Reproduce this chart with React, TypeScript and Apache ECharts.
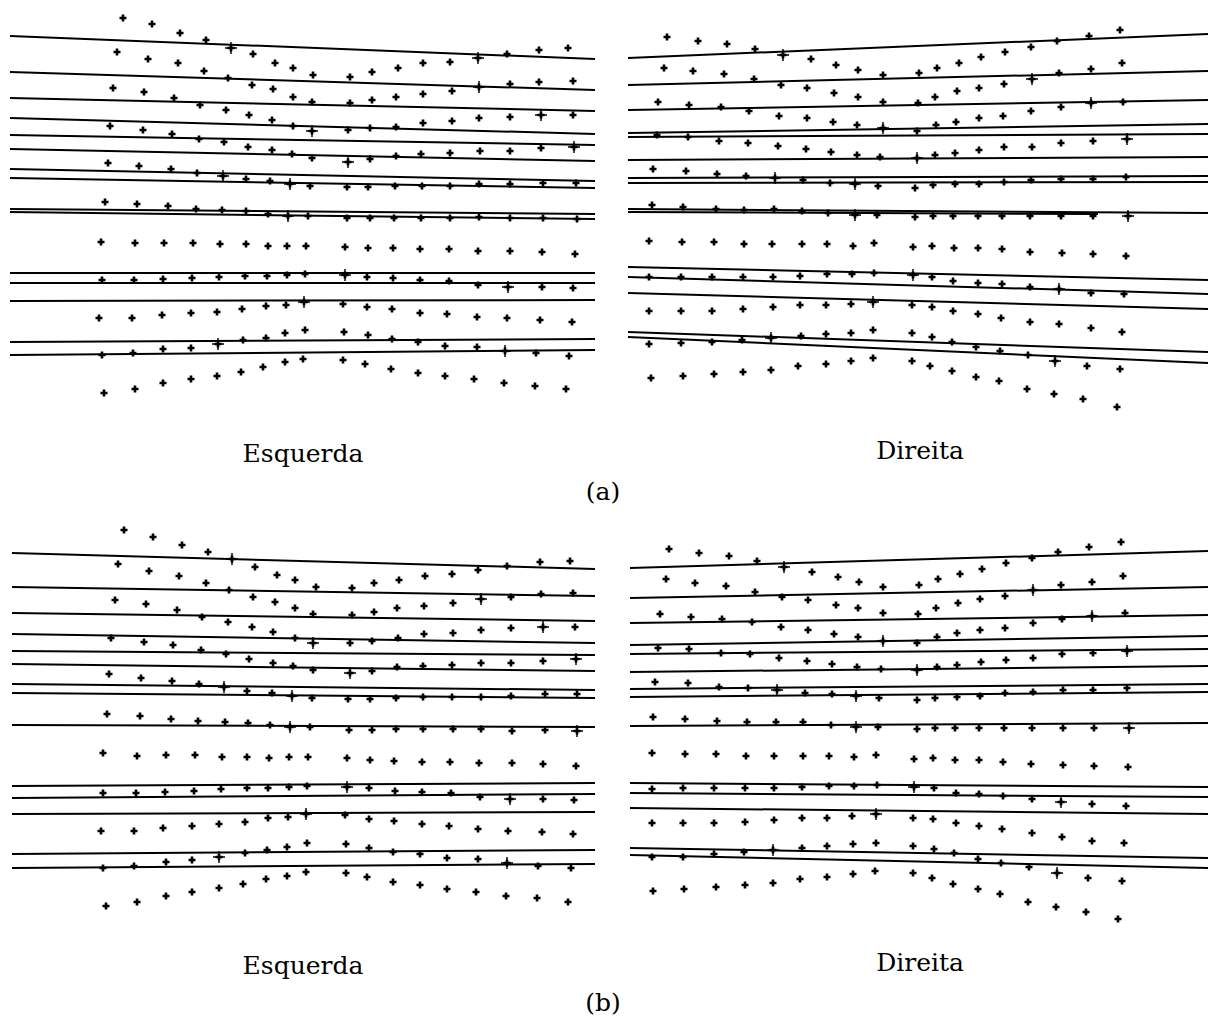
import React, { useEffect, useRef } from "react";
import * as echarts from "echarts";

// ---------- labels ----------
const panelLabels = ["Esquerda", "Direita", "Esquerda", "Direita"];
const captions = ["(a)", "(b)"];

// ---------- (a) Esquerda ----------
const rowsTL: number[][][] = [
  [[123,18],[152,24],[180,33],[206,40],[231,48],[253,54],[275,63],[293,68],[313,75],[350,77],[372,72],[398,68],[423,63],[450,62],[478,58],[507,54],[539,50],[568,48]],
  [[117,52],[148,59],[178,63],[204,71],[228,78],[252,85],[273,89],[293,97],[312,102],[350,103],[372,100],[396,97],[423,94],[452,91],[479,87],[510,84],[539,82],[573,81]],
  [[113,88],[144,92],[174,98],[200,105],[226,110],[249,115],[272,120],[293,126],[312,131],[348,130],[370,128],[396,127],[423,123],[452,121],[479,118],[510,117],[541,115],[573,115]],
  [[110,126],[143,130],[172,134],[199,139],[224,142],[248,147],[272,150],[292,154],[312,158],[348,162],[370,159],[396,156],[421,154],[450,153],[480,151],[510,151],[541,148],[574,147]],
  [[108,163],[139,166],[171,169],[197,173],[223,176],[246,179],[270,181],[290,184],[310,186],[347,187],[368,187],[395,186],[422,186],[450,186],[479,184],[510,184],[543,183],[576,183]],
  [[105,202],[137,204],[168,206],[196,209],[222,210],[246,211],[268,214],[288,216],[308,216],[347,218],[370,218],[394,218],[421,218],[450,218],[479,217],[510,218],[543,218],[577,219]],
  [[101,242],[135,243],[164,243],[193,243],[220,244],[246,244],[268,246],[287,246],[306,246],[345,247],[368,248],[393,248],[420,249],[449,249],[478,251],[510,251],[542,252],[575,254]],
  [[102,280],[134,280],[163,279],[192,278],[219,277],[245,276],[267,276],[287,275],[305,274],[345,275],[367,277],[393,278],[420,280],[449,281],[478,285],[508,287],[542,287],[573,288]],
  [[99,318],[132,318],[162,315],[191,313],[217,312],[242,309],[266,306],[286,305],[304,302],[343,304],[367,307],[392,309],[420,313],[447,314],[477,317],[507,318],[540,320],[572,322]],
  [[102,355],[133,353],[163,349],[191,348],[218,344],[243,340],[266,338],[285,333],[305,330],[344,332],[368,335],[392,339],[418,342],[445,346],[477,347],[505,351],[536,353],[569,356]],
  [[104,393],[135,389],[163,383],[191,379],[217,376],[241,372],[263,367],[285,362],[303,359],[343,360],[365,364],[391,369],[418,373],[445,376],[474,379],[504,383],[535,386],[566,389]],
];
const crossesTL: number[][] = [[231,48],[478,58],[479,87],[312,131],[541,115],[348,162],[574,147],[223,176],[290,184],[288,216],[345,275],[508,287],[304,302],[218,344],[505,351]];
const linesTL: number[][][] = [
  [[10,36],[595,59]],[[10,72],[595,90]],[[10,98],[595,111]],[[10,118],[595,134]],[[10,135],[595,145]],
  [[10,149],[595,161]],[[10,169],[595,181]],[[10,178],[595,188]],[[10,209],[595,214]],[[10,212],[595,219]],
  [[10,273],[595,273]],[[10,283],[595,283]],[[10,301],[595,300]],[[10,342],[595,339]],[[10,355],[595,350]],
];

// ---------- (a) Direita ----------
const rowsTR: number[][][] = [
  [[667,37],[698,41],[727,44],[755,49],[783,55],[811,59],[836,65],[858,70],[883,75],[919,73],[937,68],[959,63],[981,57],[1005,52],[1031,47],[1057,41],[1089,36],[1120,30]],
  [[664,68],[693,71],[724,74],[754,79],[781,85],[807,88],[834,93],[858,97],[883,102],[918,103],[935,97],[957,91],[979,88],[1004,84],[1032,79],[1059,73],[1091,69],[1122,63]],
  [[658,102],[689,105],[721,107],[749,111],[779,116],[807,118],[833,122],[857,125],[883,128],[917,131],[936,125],[956,122],[979,118],[1003,116],[1031,111],[1061,107],[1091,103],[1123,102]],
  [[657,135],[688,137],[719,141],[748,143],[778,146],[806,149],[831,152],[857,155],[880,157],[917,158],[935,155],[955,153],[979,150],[1004,147],[1032,147],[1061,143],[1093,141],[1127,139]],
  [[653,169],[686,171],[717,174],[746,176],[775,178],[803,180],[830,183],[855,184],[878,186],[915,188],[933,185],[955,184],[979,184],[1004,182],[1031,180],[1061,179],[1093,179],[1126,177]],
  [[652,205],[683,207],[716,209],[744,210],[774,209],[802,211],[828,213],[855,215],[877,215],[915,217],[933,216],[953,216],[978,216],[1002,216],[1030,216],[1061,216],[1093,216],[1128,216]],
  [[649,241],[682,242],[714,242],[744,244],[772,244],[802,244],[827,244],[853,246],[874,243],[913,247],[932,246],[954,248],[978,248],[1002,249],[1030,252],[1062,253],[1093,254],[1126,256]],
  [[649,277],[681,277],[712,277],[743,277],[773,277],[800,276],[827,274],[852,274],[874,273],[913,275],[932,277],[953,281],[978,283],[1002,284],[1030,287],[1059,289],[1091,293],[1124,294]],
  [[649,311],[681,311],[712,311],[743,309],[773,307],[800,305],[826,305],[851,304],[873,302],[912,305],[932,307],[953,311],[978,314],[1001,318],[1030,322],[1059,324],[1091,328],[1122,332]],
  [[649,344],[681,343],[712,342],[742,340],[771,338],[801,336],[826,334],[851,333],[873,330],[912,333],[932,337],[952,342],[976,347],[1000,351],[1028,355],[1055,361],[1087,366],[1120,369]],
  [[651,378],[683,376],[714,374],[743,372],[771,370],[798,366],[826,364],[851,361],[873,358],[912,361],[930,366],[952,371],[976,377],[999,381],[1027,389],[1054,394],[1083,399],[1117,407]],
];
const crossesTR: number[][] = [[783,55],[1032,79],[883,128],[1091,103],[917,158],[1127,139],[775,178],[855,184],[855,215],[1128,216],[913,275],[1059,289],[873,302],[771,338],[1055,361]];
const linesTR: number[][][] = [
  [[628,58],[1208,34]],[[628,85],[1208,71]],[[628,110],[1208,100]],[[628,133],[1208,124]],[[628,137],[1208,134]],
  [[628,160],[1208,157]],[[628,178],[1208,176]],[[628,183],[1208,182]],[[628,209],[1208,213]],[[628,212],[1098,214]],
  [[628,267],[1208,280]],[[628,277],[1208,294]],[[628,293],[1208,309]],[[628,332],[1208,352]],[[628,337],[1208,363]],
];

// ---------- (b) Esquerda ----------
const rowsBL: number[][][] = [
  [[124,530],[153,537],[182,545],[208,552],[232,559],[255,567],[277,575],[295,580],[316,587],[352,588],[374,583],[399,580],[425,576],[452,574],[478,570],[507,566],[540,562],[570,561]],
  [[118,564],[149,571],[179,576],[206,583],[229,590],[253,597],[275,602],[295,608],[313,614],[352,615],[374,612],[397,608],[424,606],[453,603],[481,599],[511,597],[541,594],[573,593]],
  [[115,600],[146,604],[177,610],[202,617],[228,622],[252,627],[273,632],[295,638],[313,643],[350,643],[372,641],[398,638],[424,634],[453,633],[481,630],[511,628],[543,627],[575,627]],
  [[111,638],[144,642],[173,645],[201,650],[226,654],[249,659],[273,663],[293,666],[313,670],[350,673],[372,671],[397,667],[423,666],[452,665],[481,663],[511,663],[543,661],[576,659]],
  [[109,674],[141,678],[172,681],[199,684],[224,687],[247,691],[272,693],[292,696],[312,698],[348,699],[370,699],[396,698],[423,697],[452,697],[481,697],[511,696],[545,694],[577,694]],
  [[107,714],[140,716],[171,719],[198,721],[225,722],[248,723],[270,725],[290,727],[310,727],[349,730],[372,730],[396,729],[423,729],[453,729],[481,729],[512,731],[545,730],[577,731]],
  [[103,753],[137,756],[166,755],[195,755],[222,757],[247,757],[269,758],[289,757],[308,757],[347,758],[370,760],[394,761],[422,762],[450,762],[479,763],[512,763],[543,764],[576,766]],
  [[103,793],[136,793],[165,792],[194,791],[221,789],[247,788],[268,788],[289,787],[307,786],[347,787],[369,788],[395,791],[422,792],[451,793],[480,797],[510,799],[543,799],[574,800]],
  [[101,831],[134,831],[163,828],[192,826],[219,824],[245,822],[268,818],[288,817],[306,814],[345,815],[369,819],[394,821],[422,824],[449,826],[478,829],[508,831],[542,832],[573,834]],
  [[103,868],[134,866],[166,862],[192,860],[219,857],[245,853],[267,850],[287,847],[307,843],[346,844],[369,848],[393,852],[420,854],[447,858],[478,859],[507,863],[538,866],[571,868]],
  [[106,906],[137,902],[166,896],[192,892],[219,888],[243,884],[266,879],[287,876],[306,872],[346,873],[367,877],[393,882],[420,885],[447,889],[476,892],[506,896],[537,898],[568,902]],
];
const crossesBL: number[][] = [[232,559],[481,599],[313,643],[543,627],[350,673],[576,659],[224,687],[292,696],[290,727],[577,731],[347,787],[510,799],[306,814],[219,857],[507,863]];
const linesBL: number[][][] = [
  [[12,553],[595,569]],[[12,587],[595,596]],[[12,613],[595,621]],[[12,634],[595,643]],[[12,651],[595,655]],
  [[12,664],[595,671]],[[12,684],[595,690]],[[12,693],[595,698]],[[12,725],[595,727]],[[12,786],[595,783]],
  [[12,798],[595,794]],[[12,814],[595,812]],[[12,854],[595,850]],[[12,868],[595,864]],
];

// ---------- (b) Direita ----------
const rowsBR: number[][][] = [
  [[669,549],[699,553],[729,556],[757,561],[784,567],[812,572],[838,577],[859,582],[883,587],[919,585],[938,579],[960,574],[982,569],[1006,563],[1032,558],[1058,552],[1089,547],[1121,542]],
  [[666,579],[695,583],[726,586],[755,592],[782,597],[808,600],[836,605],[858,608],[883,613],[918,614],[936,608],[958,603],[980,599],[1005,596],[1033,590],[1061,585],[1092,582],[1123,576]],
  [[660,614],[691,617],[722,619],[752,622],[781,627],[808,630],[834,634],[858,637],[883,641],[917,643],[937,637],[957,633],[980,630],[1005,628],[1033,623],[1062,619],[1092,616],[1125,613]],
  [[658,648],[689,649],[721,653],[750,654],[779,658],[807,661],[832,664],[857,667],[881,669],[917,670],[937,667],[957,665],[981,662],[1006,660],[1033,658],[1062,654],[1093,653],[1127,651]],
  [[655,682],[688,683],[719,687],[748,688],[777,690],[805,693],[832,694],[856,696],[879,698],[917,700],[935,698],[957,697],[980,696],[1005,693],[1033,692],[1063,690],[1093,690],[1127,688]],
  [[653,717],[685,719],[717,721],[747,722],[776,722],[803,722],[831,725],[856,727],[878,727],[917,729],[935,728],[955,728],[979,728],[1004,728],[1032,728],[1063,728],[1094,728],[1129,728]],
  [[652,753],[685,754],[716,754],[746,756],[774,756],[803,756],[829,756],[854,757],[876,755],[914,759],[933,758],[955,760],[979,760],[1003,762],[1031,764],[1063,765],[1094,766],[1128,767]],
  [[652,789],[683,788],[714,788],[745,788],[774,788],[802,787],[829,786],[854,786],[877,785],[914,787],[934,788],[956,793],[979,794],[1003,796],[1032,799],[1061,802],[1092,804],[1126,806]],
  [[652,823],[683,823],[714,823],[745,822],[774,820],[802,818],[827,818],[852,816],[876,814],[913,818],[933,819],[956,823],[979,826],[1002,829],[1032,833],[1062,837],[1092,841],[1124,843]],
  [[652,857],[683,857],[714,854],[744,852],[773,850],[802,848],[827,846],[853,844],[876,843],[913,846],[934,849],[954,853],[978,859],[1001,863],[1029,867],[1057,873],[1088,878],[1122,881]],
  [[653,891],[684,889],[716,887],[745,885],[773,883],[800,879],[827,877],[853,874],[875,871],[913,873],[932,878],[953,884],[978,889],[1000,894],[1028,902],[1056,907],[1086,912],[1118,919]],
];
const crossesBR: number[][] = [[784,567],[1033,590],[883,641],[1092,616],[917,670],[1127,651],[777,690],[856,696],[856,727],[1129,728],[914,787],[1061,802],[876,814],[773,850],[1057,873]];
const linesBR: number[][][] = [
  [[630,568],[1208,551]],[[630,598],[1208,587]],[[630,623],[1208,615]],[[630,645],[1208,636]],[[630,654],[1208,649]],
  [[630,672],[1208,666]],[[630,689],[1208,684]],[[630,697],[1208,692]],[[630,726],[1208,723]],[[630,783],[1208,787]],
  [[630,793],[1208,797]],[[630,808],[1208,814]],[[630,848],[1208,858]],[[630,855],[1208,868]],
];

const panels = [
  { rows: rowsTL, crosses: crossesTL, lines: linesTL, grid: { left: 0, top: 0 }, x: [0, 604], y: [0, 420] },
  { rows: rowsTR, crosses: crossesTR, lines: linesTR, grid: { left: 604, top: 0 }, x: [604, 1208], y: [0, 420] },
  { rows: rowsBL, crosses: crossesBL, lines: linesBL, grid: { left: 0, top: 510 }, x: [0, 604], y: [510, 930] },
  { rows: rowsBR, crosses: crossesBR, lines: linesBR, grid: { left: 604, top: 510 }, x: [604, 1208], y: [510, 930] },
];

const labelPos = [[303, 453], [920, 450], [303, 965], [920, 962]];
const captionPos = [[603, 491], [603, 1002]];

const DOT = "path://M2.2,0H4.8V2.2H7V4.8H4.8V7H2.2V4.8H0V2.2H2.2Z";
const CROSS = "path://M4.4,0H5.6V4.4H10V5.6H5.6V10H4.4V5.6H0V4.4H4.4Z";

export default function App() {
  const ref = useRef<HTMLDivElement>(null);
  useEffect(() => {
    if (!ref.current) return;
    const chart = echarts.init(ref.current, null, { renderer: "svg" });
    const grids: any[] = [];
    const xAxes: any[] = [];
    const yAxes: any[] = [];
    const series: any[] = [];
    panels.forEach((p, i) => {
      grids.push({ left: p.grid.left, top: p.grid.top, width: 604, height: 420, containLabel: false });
      xAxes.push({ type: "value", gridIndex: i, min: p.x[0], max: p.x[1], show: false });
      yAxes.push({ type: "value", gridIndex: i, min: p.y[0], max: p.y[1], inverse: true, show: false });
      series.push({
        type: "lines",
        coordinateSystem: "cartesian2d",
        xAxisIndex: i,
        yAxisIndex: i,
        silent: true,
        lineStyle: { color: "#000", width: 2, opacity: 1 },
        data: p.lines.map((l) => ({ coords: l })),
      });
      series.push({
        type: "scatter",
        xAxisIndex: i,
        yAxisIndex: i,
        symbol: DOT,
        symbolSize: 7,
        itemStyle: { color: "#000", opacity: 1 },
        silent: true,
        data: p.rows.flat(),
      });
      series.push({
        type: "scatter",
        xAxisIndex: i,
        yAxisIndex: i,
        symbol: CROSS,
        symbolSize: 12,
        itemStyle: { color: "#000", opacity: 1 },
        silent: true,
        data: p.crosses,
      });
    });
    const graphic: any[] = [];
    panelLabels.forEach((t, i) => {
      graphic.push({
        type: "text",
        x: labelPos[i][0],
        y: labelPos[i][1],
        style: { text: t, fill: "#000", font: "25px 'DejaVu Serif'", textAlign: "center", textVerticalAlign: "middle" },
      });
    });
    captions.forEach((t, i) => {
      graphic.push({
        type: "text",
        x: captionPos[i][0],
        y: captionPos[i][1],
        style: { text: t, fill: "#000", font: "25px 'DejaVu Serif'", textAlign: "center", textVerticalAlign: "middle" },
      });
    });
    chart.setOption({
      animation: false,
      backgroundColor: "#fff",
      grid: grids,
      xAxis: xAxes,
      yAxis: yAxes,
      series,
      graphic,
    });
    return () => chart.dispose();
  }, []);
  return (
    <div
      ref={ref}
      style={{ position: "absolute", left: 0, top: 0, width: 1208, height: 1018, background: "#fff" }}
    />
  );
}
